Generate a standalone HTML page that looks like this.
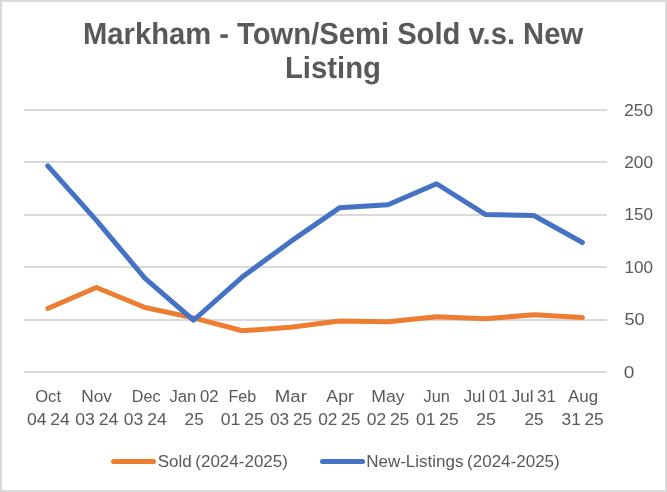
<!DOCTYPE html>
<html lang="en"><head><meta charset="utf-8"><title>Markham - Town/Semi Sold v.s. New Listing</title>
<style>
html,body{margin:0;padding:0;background:#fff;}
body{width:667px;height:492px;overflow:hidden;}
svg{display:block;}
text{font-family:"Liberation Sans",Arial,Helvetica,sans-serif;fill:#595959;}
.t{font-weight:bold;font-size:30.5px;text-rendering:geometricPrecision;}
.l{font-size:17.4px;word-spacing:-1.1px;}
</style></head><body>
<svg width="667" height="492" viewBox="0 0 667 492">
<rect x="0" y="0" width="667" height="492" fill="#fff"/>
<rect x="1" y="1" width="665" height="490" fill="none" stroke="#D9D9D9" stroke-width="2"/>
<g class="t">
<text x="82.99" y="44.00" textLength="500.17" lengthAdjust="spacingAndGlyphs">Markham - Town/Semi Sold v.s. New</text>
<text x="284.98" y="78.00" textLength="96.03" lengthAdjust="spacingAndGlyphs">Listing</text>
</g>
<g stroke="#D9D9D9" stroke-width="2">
<line x1="24" x2="607" y1="372" y2="372"/>
<line x1="24" x2="607" y1="320" y2="320"/>
<line x1="24" x2="607" y1="267" y2="267"/>
<line x1="24" x2="607" y1="215" y2="215"/>
<line x1="24" x2="607" y1="162" y2="162"/>
<line x1="24" x2="607" y1="110" y2="110"/>
</g>
<g class="l">
<text x="623.82" y="378.00" textLength="10.59" lengthAdjust="spacingAndGlyphs">0</text>
<text x="624.40" y="325.00" textLength="20.09" lengthAdjust="spacingAndGlyphs">50</text>
<text x="624.58" y="273.00" textLength="28.44" lengthAdjust="spacingAndGlyphs">100</text>
<text x="624.58" y="220.00" textLength="28.44" lengthAdjust="spacingAndGlyphs">150</text>
<text x="624.31" y="168.00" textLength="28.72" lengthAdjust="spacingAndGlyphs">200</text>
<text x="624.31" y="116.00" textLength="28.72" lengthAdjust="spacingAndGlyphs">250</text>
</g>
<g class="l">
<text x="35.19" y="402.00" textLength="25.82" lengthAdjust="spacingAndGlyphs">Oct</text>
<text x="26.98" y="425.00" textLength="42.76" lengthAdjust="spacingAndGlyphs">04 24</text>
<text x="81.23" y="402.00" textLength="30.70" lengthAdjust="spacingAndGlyphs">Nov</text>
<text x="75.28" y="425.00" textLength="43.07" lengthAdjust="spacingAndGlyphs">03 24</text>
<text x="131.79" y="402.00" textLength="28.75" lengthAdjust="spacingAndGlyphs">Dec</text>
<text x="123.88" y="425.00" textLength="42.76" lengthAdjust="spacingAndGlyphs">03 24</text>
<text x="169.38" y="402.00" textLength="49.13" lengthAdjust="spacingAndGlyphs">Jan 02</text>
<text x="184.58" y="425.00" textLength="19.17" lengthAdjust="spacingAndGlyphs">25</text>
<text x="228.43" y="402.00" textLength="27.63" lengthAdjust="spacingAndGlyphs">Feb</text>
<text x="220.78" y="425.00" textLength="43.04" lengthAdjust="spacingAndGlyphs">01 25</text>
<text x="274.75" y="402.00" textLength="32.16" lengthAdjust="spacingAndGlyphs">Mar</text>
<text x="269.99" y="425.00" textLength="42.11" lengthAdjust="spacingAndGlyphs">03 25</text>
<text x="326.36" y="402.00" textLength="27.46" lengthAdjust="spacingAndGlyphs">Apr</text>
<text x="318.14" y="425.00" textLength="42.27" lengthAdjust="spacingAndGlyphs">02 25</text>
<text x="371.23" y="402.00" textLength="33.30" lengthAdjust="spacingAndGlyphs">May</text>
<text x="366.74" y="425.00" textLength="42.58" lengthAdjust="spacingAndGlyphs">02 25</text>
<text x="423.61" y="402.00" textLength="26.27" lengthAdjust="spacingAndGlyphs">Jun</text>
<text x="416.09" y="425.00" textLength="42.73" lengthAdjust="spacingAndGlyphs">01 25</text>
<text x="463.63" y="402.00" textLength="43.81" lengthAdjust="spacingAndGlyphs">Jul 01</text>
<text x="476.16" y="425.00" textLength="19.49" lengthAdjust="spacingAndGlyphs">25</text>
<text x="511.68" y="402.00" textLength="44.38" lengthAdjust="spacingAndGlyphs">Jul 31</text>
<text x="524.48" y="425.00" textLength="19.17" lengthAdjust="spacingAndGlyphs">25</text>
<text x="567.91" y="402.00" textLength="30.16" lengthAdjust="spacingAndGlyphs">Aug</text>
<text x="561.55" y="425.00" textLength="42.16" lengthAdjust="spacingAndGlyphs">31 25</text>
</g>
<polyline fill="none" stroke="#ED7D31" stroke-width="5" stroke-linecap="round" stroke-linejoin="round" points="47.80,308.47 96.40,287.51 145.00,307.52 193.60,317.90 242.20,330.78 290.80,327.34 339.40,321.05 388.00,321.70 436.60,316.86 485.20,318.75 533.80,314.76 582.40,317.60"/>
<polyline fill="none" stroke="#4472C4" stroke-width="5" stroke-linecap="round" stroke-linejoin="round" points="47.80,165.94 96.40,220.44 145.00,278.28 193.60,320.25 242.20,277.03 290.80,241.40 339.40,207.86 388.00,204.82 436.60,183.76 485.20,214.45 533.80,215.50 582.40,242.45"/>
<line x1="113.6" x2="153.5" y1="461.5" y2="461.5" stroke="#ED7D31" stroke-width="5" stroke-linecap="round"/>
<g class="l">
<text x="157.64" y="467.00" textLength="130.28" lengthAdjust="spacingAndGlyphs">Sold (2024-2025)</text>
<text x="366.16" y="467.00" textLength="193.55" lengthAdjust="spacingAndGlyphs">New-Listings (2024-2025)</text>
</g>
<line x1="322.5" x2="362.6" y1="461.5" y2="461.5" stroke="#4472C4" stroke-width="5" stroke-linecap="round"/>
</svg>
</body></html>
